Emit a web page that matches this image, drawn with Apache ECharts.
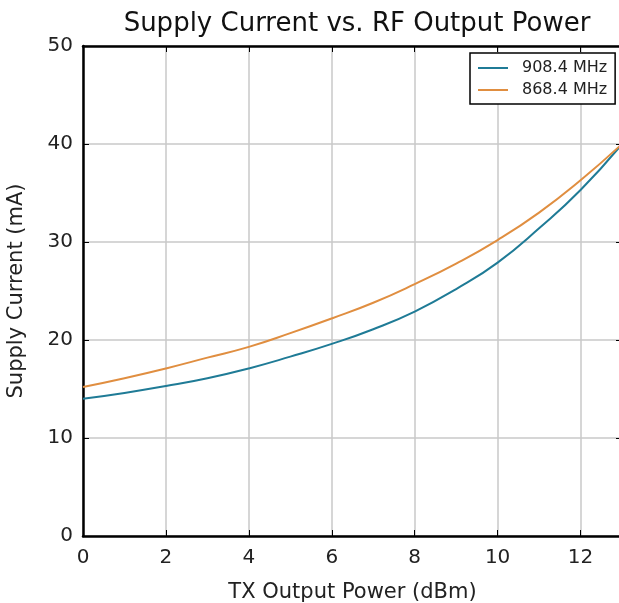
<!DOCTYPE html>
<html>
<head>
<meta charset="utf-8">
<script src="https://cdn.jsdelivr.net/npm/echarts@6/dist/echarts.min.js"></script>
<style>
  * { margin: 0; padding: 0; }
  body { background: #fff; }
</style>
</head>
<body>
<div id="chart" style="width:619px;height:603px;"></div>
<script>
// TX output power (dBm)
const txPower = [0, 1, 2, 3, 4, 5, 6, 7, 8, 9, 10, 11, 12, 13]
// supply current (mA)
const current908 = [14.0, 14.6, 15.3, 16.1, 17.1, 18.3, 19.6, 21.1, 22.9, 25.2, 27.9, 31.4, 35.3, 40.0]
const current868 = [15.2, 16.1, 17.1, 18.2, 19.3, 20.7, 22.2, 23.8, 25.7, 27.8, 30.2, 33.0, 36.3, 40.0]

const pairs = (ys) => txPower.map((x, i) => [x, ys[i]])

// black frame on all four sides, matplotlib style
const frameLine = { show: true, onZero: false, lineStyle: { color: '#000', width: 2.5 } }
const tick = { show: true, inside: true, length: 6, lineStyle: { color: '#000', width: 1 } }
const grey = { lineStyle: { color: '#c8c8c8', width: 1.5 } }

let chart = echarts.init(document.getElementById('chart'))
chart.setOption({
  animation: false,
  textStyle: { fontFamily: 'DejaVu Sans' },
  title: {
    text: 'Supply Current vs. RF Output Power',
    left: 352, top: 6, textAlign: 'center',
    textStyle: { fontFamily: 'DejaVu Sans', fontSize: 26, fontWeight: 'normal', color: '#111' }
  },
  legend: {
    left: 470, top: 53, orient: 'vertical',
    itemWidth: 30, itemHeight: 2, itemGap: 6,
    padding: [7, 8, 6, 8],
    borderColor: '#000', borderWidth: 1.5,
    backgroundColor: '#fff',
    textStyle: { fontFamily: 'DejaVu Sans', fontSize: 16, color: '#222', padding: [0, 0, 0, 9] },
    icon: 'rect',
    data: ['908.4 MHz', '868.4 MHz']
  },
  grid: {
    left: 83, top: 46, width: 539, height: 490,
    containLabel: false, outerBoundsMode: 'none'
  },
  xAxis: [
    {
      type: 'value', min: 0, max: 13, interval: 2,
      name: 'TX Output Power (dBm)', nameLocation: 'middle', nameGap: 46,
      nameTextStyle: { fontFamily: 'DejaVu Sans', fontSize: 21, color: '#222' },
      axisLine: frameLine, axisTick: tick,
      axisLabel: { fontSize: 20, color: '#222', margin: 12, showMaxLabel: false },
      splitLine: grey
    },
    {
      type: 'value', min: 0, max: 13, interval: 2, position: 'top',
      axisLine: frameLine, axisTick: tick,
      axisLabel: { show: false }, splitLine: { show: false }
    }
  ],
  yAxis: [
    {
      type: 'value', min: 0, max: 50, interval: 10,
      name: 'Supply Current (mA)', nameLocation: 'middle', nameGap: 56,
      nameTextStyle: { fontFamily: 'DejaVu Sans', fontSize: 21, color: '#222' },
      axisLine: frameLine, axisTick: tick,
      axisLabel: { fontSize: 20, color: '#222', margin: 10 },
      splitLine: grey
    },
    {
      type: 'value', min: 0, max: 50, interval: 10, position: 'right',
      axisLine: frameLine, axisTick: tick,
      axisLabel: { show: false }, splitLine: { show: false }
    }
  ],
  series: [
    {
      name: '908.4 MHz', type: 'line', smooth: true, symbol: 'none',
      data: pairs(current908),
      itemStyle: { color: '#1f7b96' },
      lineStyle: { color: '#1f7b96', width: 2 }
    },
    {
      name: '868.4 MHz', type: 'line', smooth: true, symbol: 'none',
      data: pairs(current868),
      itemStyle: { color: '#e08e40' },
      lineStyle: { color: '#e08e40', width: 2 }
    }
  ]
})
</script>
</body>
</html>
